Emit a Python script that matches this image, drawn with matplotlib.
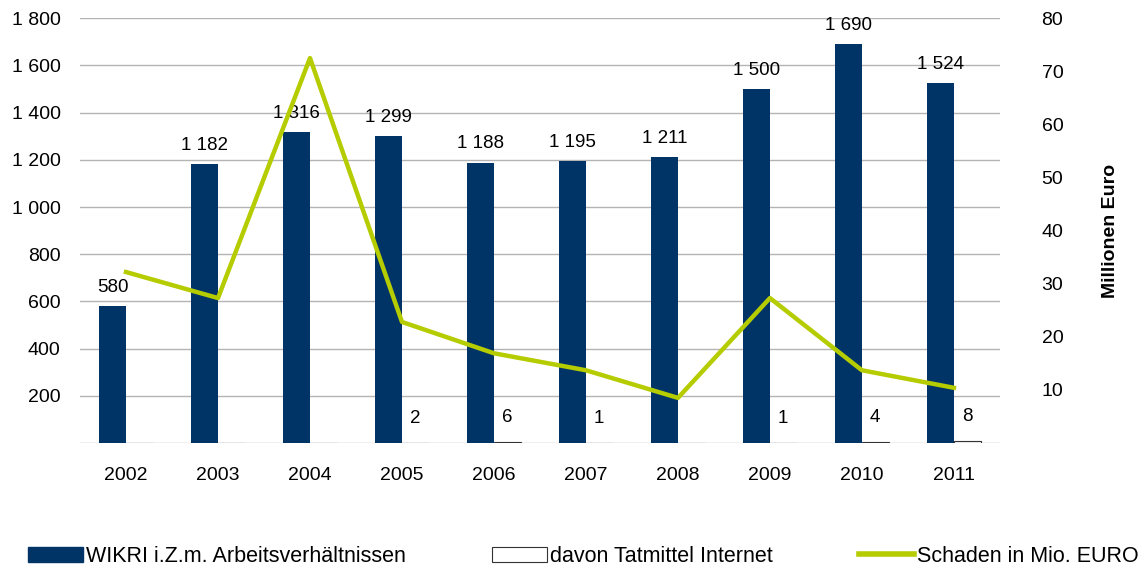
import numpy as np
import matplotlib.pyplot as plt
from matplotlib.patches import Patch
from matplotlib.lines import Line2D

plt.rcParams['font.family'] = ['Liberation Sans', 'DejaVu Sans']

years = ['2002', '2003', '2004', '2005', '2006', '2007', '2008', '2009', '2010', '2011']
wikri = [580, 1182, 1316, 1299, 1188, 1195, 1211, 1500, 1690, 1524]
internet = [0, 0, 0, 2, 6, 1, 0, 1, 4, 8]
schaden = [32.2, 27.3, 72.5, 22.8, 16.9, 13.7, 8.5, 27.3, 13.7, 10.4]

bar_blue = '#003366'
line_green = '#b5cc00'

def fmt(v):
    return f'{v:,}'.replace(',', ' ')

fig = plt.figure(figsize=(11.48, 5.69), dpi=100)
ax = fig.add_axes([0.0697, 0.2214, 0.8013, 0.7466])
ax2 = ax.twinx()

x = np.arange(len(years))
w = 0.29

ax.bar(x - w / 2, wikri, w, color=bar_blue, zorder=2)
ax.bar(x + w / 2, internet, w, color='white', edgecolor='#333333', linewidth=0.8, zorder=2)

for i, v in enumerate(wikri):
    ax.annotate(fmt(v), (x[i] - w / 2, v), xytext=(0, 7.5), textcoords='offset points',
                ha='center', va='bottom', fontsize=13.5)
for i, v in enumerate(internet):
    if v > 0:
        ax.annotate(str(v), (x[i] + w / 2, v), xytext=(0, 11.5), textcoords='offset points',
                    ha='center', va='bottom', fontsize=13.5)

ax2.plot(x, schaden, color=line_green, linewidth=3.2, zorder=3)

ax.set_xlim(-0.5, len(years) - 0.5)
ax.set_ylim(0, 1800)
ax.set_yticks(range(200, 1801, 200))
ax.set_yticklabels([fmt(v) for v in range(200, 1801, 200)])
ax.set_xticks(x)
ax.set_xticklabels(years)
ax2.set_ylim(0, 80)
ax2.set_yticks(range(10, 81, 10))

for v in range(0, 1801, 200):
    ax.axhline(v, color='#b4b4b4', linewidth=1, zorder=1)

for a in (ax, ax2):
    for s in a.spines.values():
        s.set_visible(False)
    a.tick_params(length=0, labelsize=14)
ax.tick_params(axis='y', pad=14)
ax.tick_params(axis='x', pad=17)
ax2.tick_params(axis='y', pad=30)
ax2.set_ylabel('Millionen Euro', fontsize=14, fontweight='bold', labelpad=28)

handles = [Patch(facecolor=bar_blue, edgecolor=bar_blue),
           Patch(facecolor='white', edgecolor='#333333', linewidth=0.8),
           Line2D([0], [0], color=line_green, linewidth=4)]
labels = ['WIKRI i.Z.m. Arbeitsverhältnissen', 'davon Tatmittel Internet', 'Schaden in Mio. EURO']
fig.legend(handles, labels, loc='center', bbox_to_anchor=(0.508, 0.022), ncol=3, frameon=False,
           fontsize=15.5, handlelength=2.55, handletextpad=0.15, columnspacing=4.0, borderaxespad=0)

fig.savefig('out.png', dpi=100)
